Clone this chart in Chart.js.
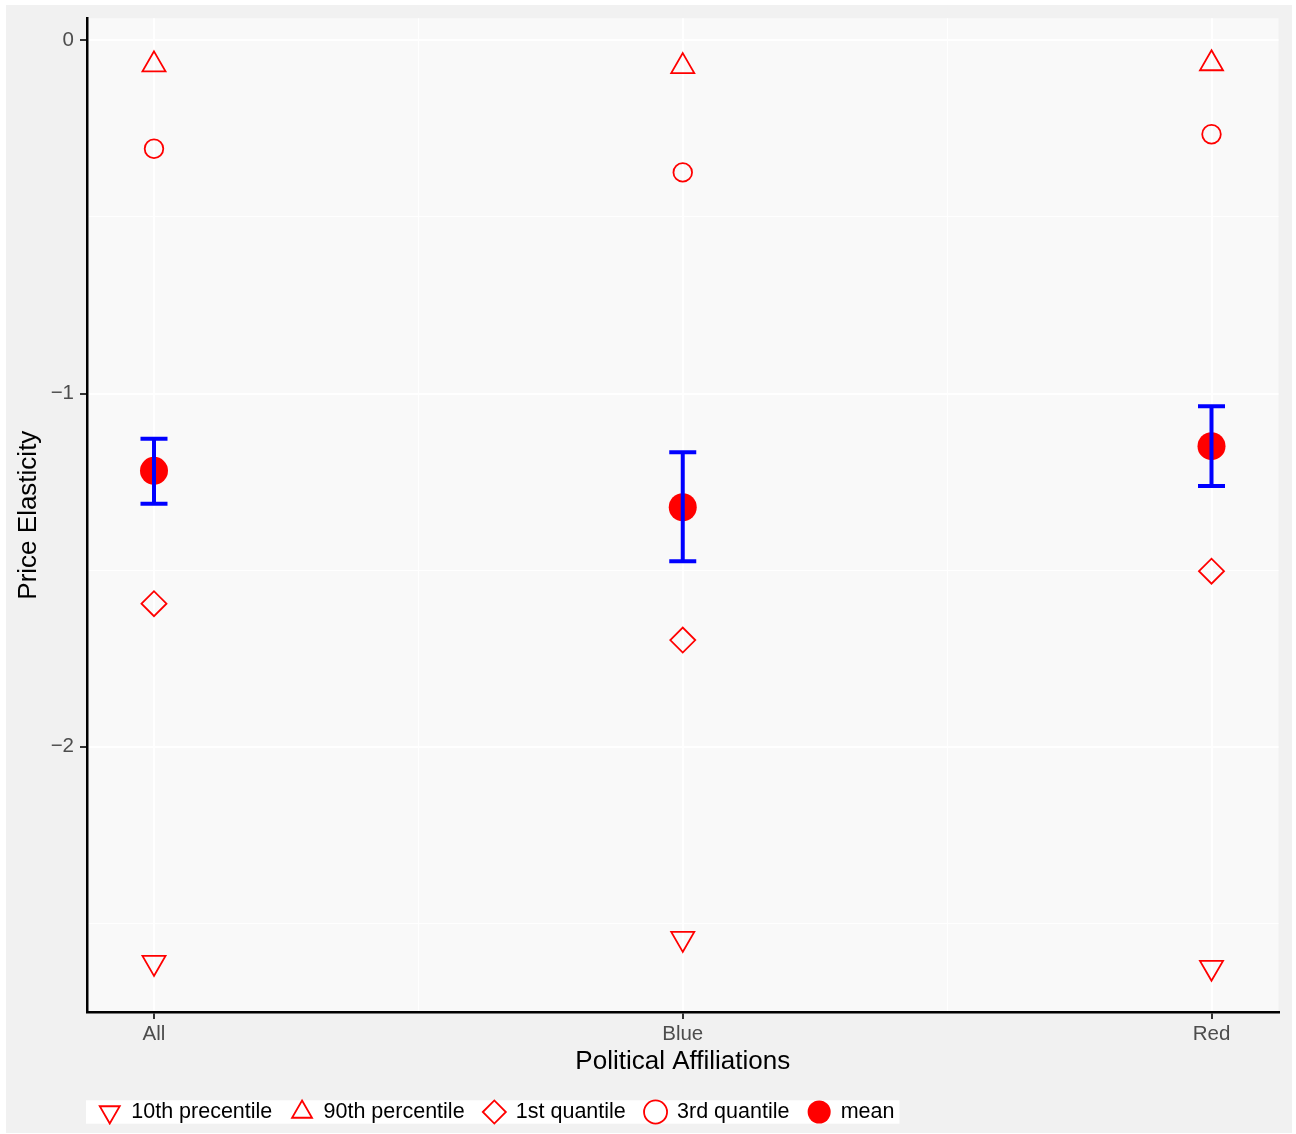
<!DOCTYPE html>
<html>
<head>
<meta charset="utf-8">
<script src="https://cdn.jsdelivr.net/npm/chart.js@4"></script>
<style>
  html, body { margin: 0; padding: 0; background: #fff; }
  canvas { display: block; }
</style>
</head>
<body>
<canvas id="chart" width="1296" height="1134"></canvas>
<script>
// データ
const CATEGORIES = ['All', 'Blue', 'Red'];
const P10 = [-2.611, -2.543, -2.625];
const P90 = [-0.069, -0.074, -0.066];
const Q1 = [-1.595, -1.698, -1.503];
const Q3 = [-0.307, -0.374, -0.266];
const MEAN = [-1.219, -1.322, -1.149];
const ERR_LOW = [-1.312, -1.475, -1.262];
const ERR_HIGH = [-1.128, -1.166, -1.036];
const Y_TICKS = [0, -1, -2];
const Y_MINOR = [-0.5, -1.5, -2.5];
const X_TICKS = [0, 1, 2];
const X_MINOR = [0.5, 1.5];
const LEGEND_LABELS = ['10th precentile', '90th percentile', '1st quantile', '3rd quantile', 'mean'];

const FONT = '"Liberation Sans", Arial, Helvetica, sans-serif';
const RED = '#ff0000';
const BLUE = '#0000ff';
const NONE = 'rgba(0,0,0,0)';
const LEGEND_FS = 21.5;

function pts(arr) { return arr.map((v, i) => ({ x: i, y: v })); }
function errPts() {
    return CATEGORIES.flatMap((c, i) => [
        { x: i, y: ERR_LOW[i] }, { x: i, y: ERR_HIGH[i] }, { x: i, y: null }
    ]);
}
function isMajor(ctx) { return ctx.tick && Number.isInteger(ctx.tick.value); }

function marker(label, data, style, radius, rotation, filled) {
    return {
        label, data,
        pointStyle: style,
        pointRadius: radius,
        pointRotation: rotation,
        pointBorderWidth: filled ? 0 : 1.8,
        pointBorderColor: RED,
        pointBackgroundColor: filled ? RED : NONE,
        borderColor: RED,
        backgroundColor: filled ? RED : NONE
    };
}

// 背景・凡例の白枠・凡例位置
const backdrop = {
    id: 'backdrop',
    afterLayout(chart) {
        const lg = chart.legend;
        lg.left = chart.chartArea.left - 7;
        lg.top = chart.chartArea.bottom + 70.25;
    },
    beforeDraw(chart) {
        const { ctx, chartArea: a, legend } = chart;
        ctx.save();
        ctx.fillStyle = '#ffffff';
        ctx.fillRect(0, 0, chart.width, chart.height);
        ctx.fillStyle = '#f1f1f1';
        ctx.fillRect(6, 5, chart.width - 10, chart.height - 6);
        ctx.fillStyle = '#f9f9f9';
        ctx.fillRect(a.left, a.top, a.right - a.left, a.bottom - a.top);

        const pad = legend.options.labels.padding;
        ctx.font = LEGEND_FS + 'px ' + FONT;
        let x = legend.left + pad;
        const start = x - 13;
        const items = legend.legendItems || [];
        items.forEach((it, i) => {
            x += LEGEND_FS * 1.5 + ctx.measureText(it.text).width;
            if (i < items.length - 1) x += pad;
        });
        const cy = legend.top + pad + LEGEND_FS / 2;
        ctx.fillStyle = '#ffffff';
        ctx.fillRect(start, cy - 11.7, x + 5 - start, 23.4);
        ctx.restore();
    }
};

const gridOpts = {
    color: '#ffffff',
    lineWidth: ctx => isMajor(ctx) ? 2 : 1,
    tickLength: 7,
    tickColor: ctx => isMajor(ctx) ? '#333333' : NONE,
    tickWidth: 2
};

new Chart(document.getElementById('chart'), {
    type: 'scatter',
    data: {
        datasets: [
            {
                label: 'se', data: errPts(), showLine: true, spanGaps: false,
                borderColor: BLUE, borderWidth: 4,
                pointStyle: 'line', pointRadius: 13.5, pointBorderWidth: 4,
                pointBorderColor: BLUE, pointBackgroundColor: BLUE
            },
            marker(LEGEND_LABELS[0], pts(P10), 'triangle', 13.3, 180, false),
            marker(LEGEND_LABELS[1], pts(P90), 'triangle', 13.3, 0, false),
            marker(LEGEND_LABELS[2], pts(Q1), 'rectRot', 12.5, 0, false),
            marker(LEGEND_LABELS[3], pts(Q3), 'circle', 9.3, 0, false),
            marker(LEGEND_LABELS[4], pts(MEAN), 'circle', 14, 0, true)
        ]
    },
    options: {
        responsive: false,
        animation: false,
        events: [],
        layout: { padding: { left: 0, top: 18, right: 17, bottom: 9 } },
        scales: {
            x: {
                type: 'linear',
                min: -0.1267, max: 2.1267,
                afterBuildTicks: axis => { axis.ticks = [...X_TICKS, ...X_MINOR].map(v => ({ value: v })); },
                afterFit: s => { s.height = 62.5; },
                ticks: {
                    callback: v => Number.isInteger(v) ? CATEGORIES[v] : '',
                    color: '#4d4d4d', font: { family: FONT, size: 20.5 },
                    autoSkip: false, maxRotation: 0, padding: 3
                },
                grid: gridOpts,
                border: { color: '#000000', width: 2.5 },
                title: {
                    display: true, text: 'Political Affiliations', color: '#000000',
                    font: { family: FONT, size: 26, lineHeight: 1 },
                    padding: { top: 0, bottom: 0 }
                }
            },
            y: {
                type: 'linear',
                min: -2.751, max: 0.0623,
                afterBuildTicks: axis => { axis.ticks = [...Y_TICKS, ...Y_MINOR].map(v => ({ value: v })); },
                afterFit: s => { s.width = 87; },
                ticks: {
                    callback: v => Number.isInteger(v) ? (v < 0 ? '\u2212' + Math.abs(v) : String(v)) : '',
                    color: '#4d4d4d', font: { family: FONT, size: 20.5 }, padding: 6
                },
                grid: gridOpts,
                border: { color: '#000000', width: 2.5 },
                title: {
                    display: true, text: 'Price Elasticity', color: '#000000',
                    font: { family: FONT, size: 26, lineHeight: 1 },
                    padding: { top: 16, bottom: 0 }
                }
            }
        },
        plugins: {
            tooltip: { enabled: false },
            legend: {
                position: 'bottom',
                align: 'start',
                fullSize: false,
                labels: {
                    usePointStyle: true,
                    boxHeight: 16.3,
                    padding: 19,
                    color: '#000000',
                    font: { family: FONT, size: LEGEND_FS },
                    filter: item => item.datasetIndex > 0
                }
            }
        }
    },
    plugins: [backdrop]
});
</script>
</body>
</html>
